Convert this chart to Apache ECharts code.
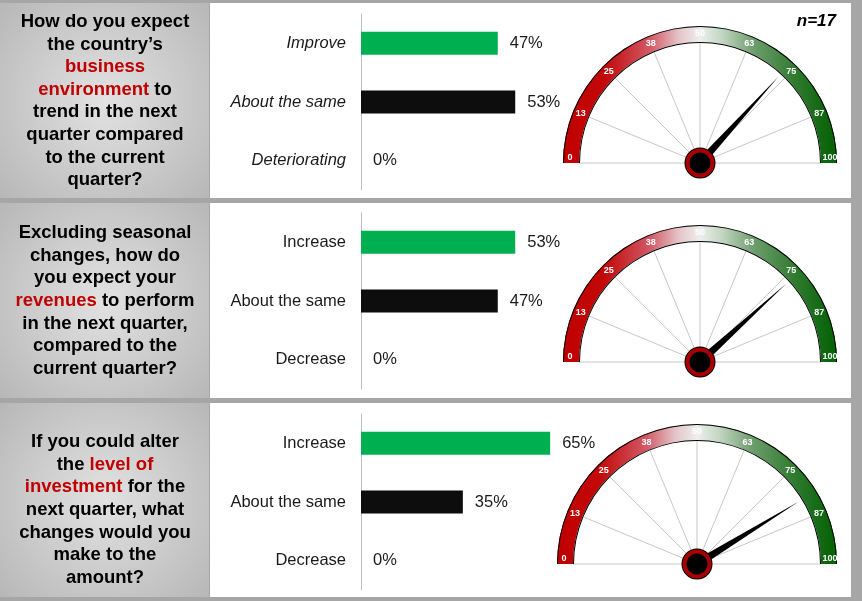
<!DOCTYPE html>
<html>
<head>
<meta charset="utf-8">
<script src="https://cdn.jsdelivr.net/npm/echarts@6/dist/echarts.min.js"></script>
<style>
  html, body { margin: 0; padding: 0; background: #a6a6a6; }
  #chart { width: 862px; height: 601px; }
</style>
</head>
<body>
<div id="chart"></div>
<script>
// answers, % of respondents
const catsBusiness = ['Improve', 'About the same', 'Deteriorating'];
const catsRevenue = ['Increase', 'About the same', 'Decrease'];
const catsInvest = ['Increase', 'About the same', 'Decrease'];
const valsBusiness = [47, 53, 0];
const valsRevenue = [53, 47, 0];
const valsInvest = [65, 35, 0];
// where the needles point on each dial
const gaugeValues = [73.5, 76.5, 82.5];
const gaugeTicks = ['0', '13', '25', '38', '50', '63', '75', '87', '100'];
const barColors = ['#00b050', '#0d0d0d', '#0d0d0d'];
const sampleSize = 'n=17';

const FONT = '"Liberation Sans", Arial, sans-serif';

const rows = [
  { top: 3, bottom: 198, cats: catsBusiness, vals: valsBusiness, italic: true,
    gridTop: 14, cx: 700, cy: 163, r: 137, textY: 101,
    text: 'How do you expect\nthe country\u2019s\n{r|business}\n{r|environment} to\ntrend in the next\nquarter compared\nto the current\nquarter?' },
  { top: 203, bottom: 398, cats: catsRevenue, vals: valsRevenue, italic: false,
    gridTop: 213, cx: 700, cy: 362, r: 137, textY: 301,
    text: 'Excluding seasonal\nchanges, how do\nyou expect your\n{r|revenues} to perform\nin the next quarter,\ncompared to the\ncurrent quarter?' },
  { top: 403, bottom: 597, cats: catsInvest, vals: valsInvest, italic: false,
    gridTop: 414, cx: 697, cy: 564, r: 140, textY: 510,
    text: 'If you could alter\nthe {r|level of}\n{r|investment} for the\nnext quarter, what\nchanges would you\nmake to the\namount?' }
];

const bandColor = new echarts.graphic.LinearGradient(0, 0, 1, 0, [
  { offset: 0, color: '#c00000' },
  { offset: 0.15, color: '#c20808' },
  { offset: 0.32, color: '#d25a66' },
  { offset: 0.42, color: '#e4c2c6' },
  { offset: 0.5, color: '#eeeeee' },
  { offset: 0.58, color: '#c2d6c2' },
  { offset: 0.7, color: '#6c9c6c' },
  { offset: 0.85, color: '#2e7a2e' },
  { offset: 0.96, color: '#0e660e' },
  { offset: 1, color: '#006400' }
]);

const chart = echarts.init(document.getElementById('chart'), null, { renderer: 'canvas' });

const grids = [], xAxes = [], yAxes = [], series = [], graphics = [];

function tickLabel(ends) {
  return function (v) {
    const k = Math.round(v / 12.5);
    const isEnd = k === 0 || k === gaugeTicks.length - 1;
    return isEnd === ends ? gaugeTicks[k] : '';
  };
}

rows.forEach(function (row, i) {
  // panels
  graphics.push({
    type: 'rect', z: 0,
    shape: { x: 0, y: row.top, width: 209, height: row.bottom - row.top },
    style: {
      fill: new echarts.graphic.RadialGradient(0.5, 0.5, 0.75, [
        { offset: 0, color: '#e2e2e2' },
        { offset: 1, color: '#b6b6b6' }
      ])
    }
  });
  graphics.push({
    type: 'rect', z: 0,
    shape: { x: 210, y: row.top, width: 641, height: row.bottom - row.top },
    style: { fill: '#ffffff' }
  });
  graphics.push({
    type: 'text', z: 1,
    style: {
      text: row.text, x: 105, y: row.textY, align: 'center', verticalAlign: 'middle',
      font: 'bold 18.5px ' + FONT, fill: '#000', lineHeight: 22.6,
      rich: { r: { fill: '#c00000', font: 'bold 18.5px ' + FONT, lineHeight: 22.6 } }
    }
  });

  // bar chart
  grids.push({ left: 361, top: row.gridTop, width: 291, height: 176 });
  xAxes.push({ gridIndex: i, type: 'value', min: 0, max: 100, show: false });
  yAxes.push({
    gridIndex: i, type: 'category', inverse: true, data: row.cats,
    axisLine: { lineStyle: { color: '#bfbfbf', width: 1 } },
    axisTick: { length: 5, lineStyle: { color: '#bfbfbf' } },
    axisLabel: { margin: 15, fontSize: 16.5, color: '#1a1a1a', fontFamily: FONT, fontStyle: row.italic ? 'italic' : 'normal' }
  });
  series.push({
    type: 'bar', xAxisIndex: i, yAxisIndex: i, barWidth: 23, silent: true,
    data: row.vals.map(function (v, k) { return { value: v, itemStyle: { color: barColors[k] } }; }),
    label: { show: true, position: 'right', distance: 12, formatter: '{c}%', fontSize: 16.5, color: '#1a1a1a', fontFamily: FONT }
  });

  // dial
  const common = {
    type: 'gauge', center: [row.cx, row.cy], startAngle: 180, endAngle: 0,
    min: 0, max: 100, splitNumber: 8, silent: true,
    axisTick: { show: false }, title: { show: false }, detail: { show: false }
  };
  const labelStyle = { color: '#fff', fontSize: 9, fontWeight: 'bold', fontFamily: FONT, rotate: 0.0001 };
  series.push(Object.assign({}, common, {
    z: 2, radius: row.r,
    axisLine: { lineStyle: { width: 16, color: [[1, bandColor]] } },
    splitLine: { show: true, length: row.r - 16, distance: 0, lineStyle: { color: '#c8c8c8', width: 1 } },
    axisLabel: { show: false },
    pointer: { show: true, length: '85%', width: 4, itemStyle: { color: '#000' } },
    anchor: { show: false },
    data: [{ value: gaugeValues[i] }]
  }));
  series.push(Object.assign({}, common, {
    z: 3, radius: row.r,
    axisLine: { lineStyle: { width: 1, color: [[1, '#000']] } },
    splitLine: { show: false, length: 0, distance: 0 },
    axisLabel: Object.assign({ distance: 8, formatter: tickLabel(false) }, labelStyle),
    pointer: { show: false },
    anchor: { show: true, showAbove: true, size: 31, itemStyle: { color: '#000' } },
    data: []
  }));
  // 0 and 100 sit a little above the base line
  series.push(Object.assign({}, common, {
    z: 3, radius: row.r, center: [row.cx, row.cy - 5],
    axisLine: { show: false },
    splitLine: { show: false, length: 0, distance: 0 },
    axisLabel: Object.assign({ distance: 7, formatter: tickLabel(true) }, labelStyle),
    pointer: { show: false },
    anchor: { show: false },
    data: []
  }));
  series.push(Object.assign({}, common, {
    z: 4, radius: row.r - 16,
    axisLine: { lineStyle: { width: 1, color: [[1, '#000']] } },
    splitLine: { show: false },
    axisLabel: { show: false },
    pointer: { show: false },
    anchor: { show: true, showAbove: true, size: 25, itemStyle: { color: '#000', borderColor: '#a80000', borderWidth: 4 } },
    data: []
  }));
});

graphics.push({
  type: 'text', z: 1,
  style: { text: sampleSize, x: 836, y: 21, align: 'right', verticalAlign: 'middle', font: 'italic bold 17px ' + FONT, fill: '#000' }
});

chart.setOption({
  backgroundColor: '#a6a6a6',
  animation: false,
  graphic: graphics,
  grid: grids,
  xAxis: xAxes,
  yAxis: yAxes,
  series: series
});
</script>
</body>
</html>
